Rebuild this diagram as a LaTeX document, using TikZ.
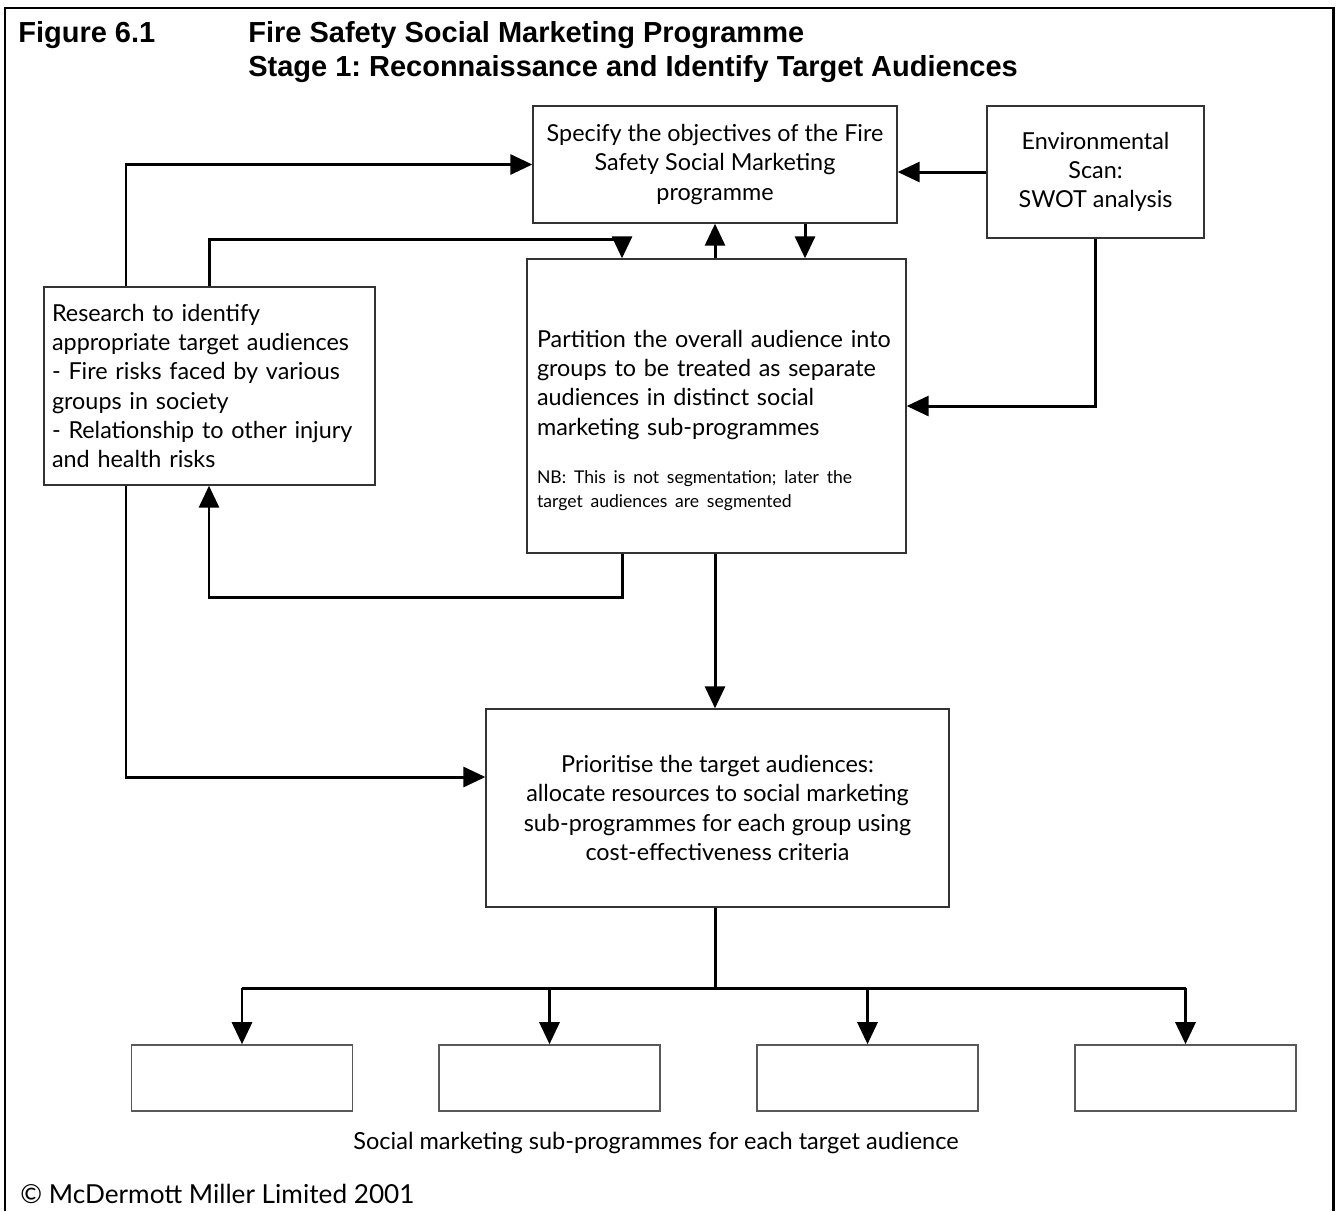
\documentclass[tikz,border=0pt]{standalone}
\usepackage{fontspec}
\setmainfont{Lato}
\newfontfamily\titlefont{Liberation Sans}
\usepackage{xcolor}
\usepackage{tikz}
\usetikzlibrary{arrows.meta}
\usetikzlibrary{positioning}
\frenchspacing
\tikzset{
    mybox/.style = {rectangle, draw=black!80, line width=0.8pt, fill=white, inner sep=0pt, align=center, font=\fontsize{13.3}{16.7}\selectfont},
    myboxl/.style = {mybox, align=left},
    subbox/.style = {rectangle, draw=black!65, line width=0.9pt, minimum width=4.42cm, minimum height=1.32cm},
    titletext/.style = {anchor=base west, inner sep=0pt, font=\titlefont\bfseries\fontsize{16.5}{19.5}\selectfont},
    flow/.style = {line width=1.7pt, -{Triangle[length=0.44cm,width=0.40cm]}},
    bus/.style = {line width=1.7pt},
}

\begin{document}
\begin{tikzpicture}[x=0.02cm, y=-0.02cm]
  \useasboundingbox (0,0) rectangle (1338,1211);
  \draw[line width=1.7pt] (5,1211) -- (5,8) -- (1333,8) -- (1333,1211);

  \node[titletext] (fig) at (18,42) {Figure 6.1};
  \node[titletext] (title1) at (248,42) {Fire Safety Social Marketing Programme};
  \node[titletext] (title2) at (248,76) {Stage 1: Reconnaissance and Identify Target Audiences};

  \node[mybox, minimum width=7.28cm, minimum height=2.34cm] (obj) at (715,164.5) {Specify the objectives of the Fire\\Safety Social Marketing\\programme};
  \node[mybox, minimum width=4.34cm, minimum height=2.64cm] (env) at (1095.5,172) {Environmental\\Scan:\\SWOT analysis};
  \node[myboxl, text width=6.30cm, inner xsep=0.16cm, minimum height=3.96cm] (res) at (209.5,386) {Research to identify\\appropriate target audiences\\- Fire risks faced by various\\groups in society\\- Relationship to other injury\\and health risks};
  \node[myboxl, text width=7.18cm, inner xsep=0.20cm, minimum height=5.88cm] (part) at (716.5,406) {\rule{0pt}{0.91cm}Partition the overall audience into\\groups to be treated as separate\\audiences in distinct social\\marketing sub-programmes\par\vspace{0.48cm}{\fontsize{10}{13.6}\selectfont NB: This is not segmentation; later the\\target audiences are segmented\par}};
  \node[mybox, minimum width=9.26cm, minimum height=3.96cm] (prio) at (717.5,808) {Prioritise the target audiences:\\allocate resources to social marketing\\sub-programmes for each group using\\cost-effectiveness criteria};

  \foreach \i/\cx in {1/242,2/549.5,3/867.5,4/1185.5}
    \node[subbox] (sub\i) at (\cx,1078) {};

  \node[font=\fontsize{13.4}{16}\selectfont] (caption) at (656,1143) {Social marketing sub-programmes for each target audience};
  \node[anchor=base west, inner sep=0pt, font=\fontsize{14.9}{17}\selectfont] (copy) at (20,1203) {© McDermott Miller Limited 2001};

  \coordinate (colA) at (126,0);
  \coordinate (colD) at (805,0);
  \coordinate (turnB) at (622,239);
  \coordinate (turnF) at (209,597);
  \coordinate (turnG) at (126,777);
  \coordinate (busrow) at (0,988);

  \draw[flow] (res.north -| colA) |- (obj.west);
  \draw[flow] (res.north) |- (turnB) -- (part.north -| turnB);
  \draw[flow] (part.north -| obj.south) -- (obj.south);
  \draw[flow] (obj.south -| colD) -- (part.north -| colD);
  \draw[flow] (env.west) -- (env.west -| obj.east);
  \draw[flow] (env.south) |- (part.east);
  \draw[flow] (part.south -| turnB) |- (turnF) -- (res.south -| turnF);
  \draw[flow] (part.south -| obj.south) -- (prio.north -| obj.south);
  \draw[flow] (res.south -| turnG) -- (turnG) -- (turnG -| prio.west);
  \draw[bus] (prio.south -| obj.south) -- (busrow -| obj.south);
  \draw[bus] (sub1.north |- busrow) -- (sub4.north |- busrow);
  \foreach \i in {1,...,4}
    \draw[flow] (sub\i.north |- busrow) -- (sub\i.north);
\end{tikzpicture}
\end{document}
